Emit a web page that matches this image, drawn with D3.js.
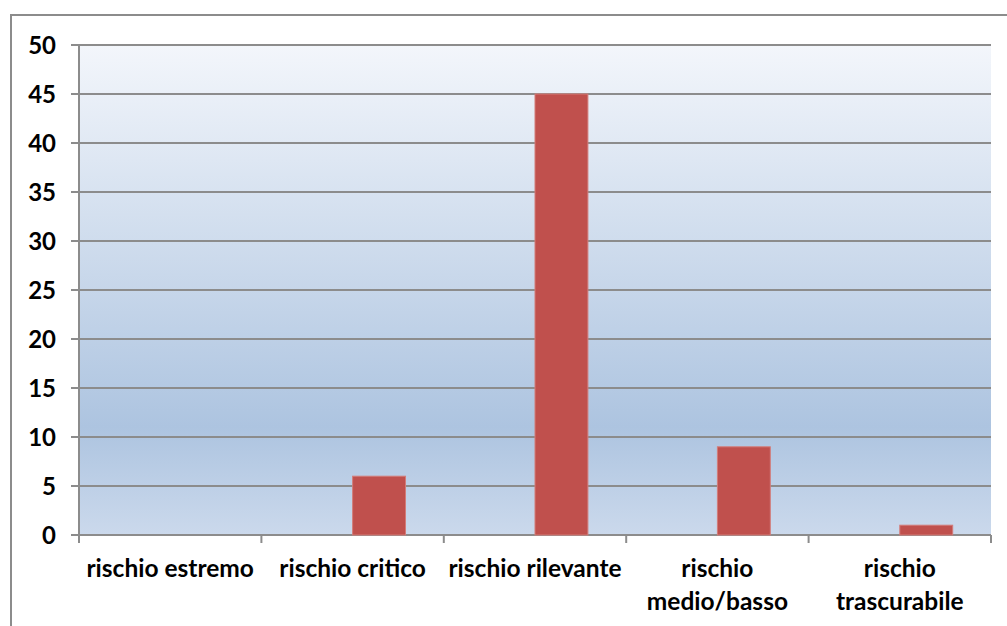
<!DOCTYPE html>
<html>
<head>
<meta charset="utf-8">
<script src="https://cdn.jsdelivr.net/npm/d3@7"></script>
<style>
  body { margin: 0; background: #fff; }
  svg text { font-family: Lato, "Open Sans", sans-serif; font-weight: bold; fill: #000; }
</style>
</head>
<body>
<div id="chart"></div>
<script>
const categories = ['rischio estremo', 'rischio critico', 'rischio rilevante', 'rischio medio/basso', 'rischio trascurabile'];
const labelLines = [['rischio estremo'], ['rischio critico'], ['rischio rilevante'], ['rischio', 'medio/basso'], ['rischio', 'trascurabile']];
const values = [0, 6, 45, 9, 1];
const yTicks = [0, 5, 10, 15, 20, 25, 30, 35, 40, 45, 50];

const W = 1007, H = 626;
const dims = { left: 79, top: 45, right: 991, bottom: 535 };

const svg = d3.select('#chart').append('svg')
    .attr('width', W)
    .attr('height', H);

// outer chart frame
svg.append('rect')
    .attr('x', 11).attr('y', 15)
    .attr('width', W + 10).attr('height', H + 10)
    .attr('fill', '#fff')
    .attr('stroke', '#8c8c8c')
    .attr('stroke-width', 2);

const grad = svg.append('defs').append('linearGradient')
    .attr('id', 'bg')
    .attr('x1', 0).attr('y1', 0).attr('x2', 0).attr('y2', 1);
grad.append('stop').attr('offset', '0%').attr('stop-color', '#f3f6fb');
grad.append('stop').attr('offset', '78%').attr('stop-color', '#adc4e0');
grad.append('stop').attr('offset', '100%').attr('stop-color', '#cbd9ec');

const x = d3.scaleBand()
    .domain(categories)
    .range([dims.left, dims.right]);

const y = d3.scaleLinear()
    .domain([0, 50])
    .range([dims.bottom, dims.top]);

svg.append('rect')
    .attr('x', dims.left).attr('y', dims.top)
    .attr('width', dims.right - dims.left)
    .attr('height', dims.bottom - dims.top)
    .attr('fill', 'url(#bg)');

// gridlines
svg.append('g')
    .selectAll('line')
    .data(yTicks)
    .enter()
    .append('line')
    .attr('x1', dims.left - 8)
    .attr('x2', dims.right)
    .attr('y1', d => y(d))
    .attr('y2', d => y(d))
    .attr('stroke', '#8c8c8c')
    .attr('stroke-width', 2);

// bars: second series of a cluster, starts at category centre
const barW = x.bandwidth() * 0.29;
svg.append('g')
    .selectAll('rect')
    .data(values)
    .enter()
    .append('rect')
    .attr('x', (d, i) => x(categories[i]) + x.bandwidth() / 2)
    .attr('y', d => y(d))
    .attr('width', barW)
    .attr('height', d => y(0) - y(d))
    .attr('fill', '#c0504d')
    .attr('stroke', d => d > 0 ? '#d37c79' : 'none')
    .attr('stroke-width', 1);

// y axis line
svg.append('line')
    .attr('x1', dims.left).attr('x2', dims.left)
    .attr('y1', dims.top).attr('y2', dims.bottom + 8)
    .attr('stroke', '#8c8c8c')
    .attr('stroke-width', 2);

// x ticks at category boundaries
const bounds = categories.map(c => x(c)).concat([dims.right]);
svg.append('g')
    .selectAll('line')
    .data(bounds)
    .enter()
    .append('line')
    .attr('x1', d => d).attr('x2', d => d)
    .attr('y1', dims.bottom)
    .attr('y2', dims.bottom + 8)
    .attr('stroke', '#8c8c8c')
    .attr('stroke-width', 2);

// y tick labels
svg.append('g')
    .selectAll('text')
    .data(yTicks)
    .enter()
    .append('text')
    .attr('x', 56)
    .attr('y', d => y(d))
    .attr('dy', '0.36em')
    .attr('text-anchor', 'end')
    .style('font-size', '24px')
    .text(d => d);

// x labels
const xl = svg.append('g')
    .selectAll('text')
    .data(labelLines)
    .enter()
    .append('text')
    .attr('text-anchor', 'middle')
    .style('font-size', '24.5px')
    .attr('x', (d, i) => x(categories[i]) + x.bandwidth() / 2)
    .attr('y', 577);
xl.selectAll('tspan')
    .data(d => d)
    .enter()
    .append('tspan')
    .attr('x', function () { return d3.select(this.parentNode).attr('x'); })
    .attr('dy', (d, i) => i === 0 ? 0 : 33)
    .text(d => d);
</script>
</body>
</html>
